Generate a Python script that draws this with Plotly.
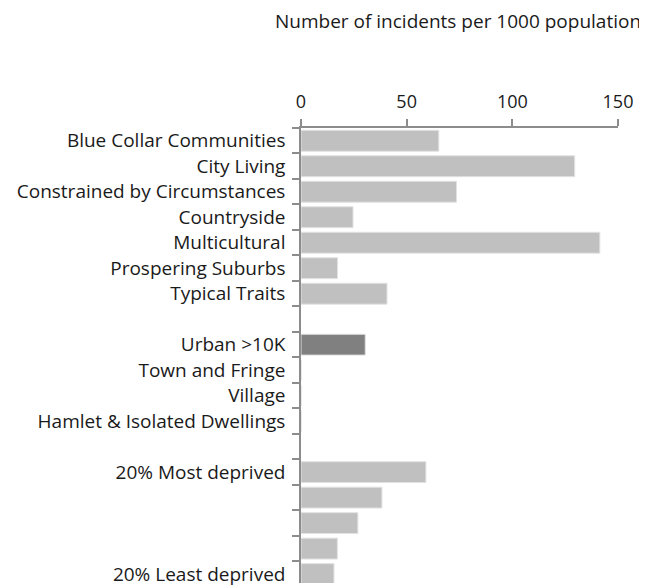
import plotly.graph_objects as go

# rows top -> bottom; blank strings are the spacer rows / unlabeled quintiles
categories = ["Blue Collar Communities", "City Living", "Constrained by Circumstances",
              "Countryside", "Multicultural", "Prospering Suburbs", "Typical Traits",
              " ",
              "Urban >10K", "Town and Fringe", "Village", "Hamlet & Isolated Dwellings",
              "  ",
              "20% Most deprived", "   ", "    ", "     ", "20% Least deprived"]
values = [65.2, 129.5, 73.6, 24.6, 141.4, 17.3, 40.7,
          None,
          30.4, 0, 0, 0,
          None,
          59.1, 38.3, 26.9, 17.2, 15.6]
highlight = "Urban >10K"

LIGHT, DARK = "#c0c0c0", "#808080"
FONT = "Open Sans"
colors = [DARK if c == highlight else LIGHT for c in categories]

fig = go.Figure(go.Bar(
    x=values, y=categories, orientation="h",
    marker=dict(color=colors, line=dict(color="#e2e2e2", width=1)),
    hoverinfo="x+y"))

# page body adds an 8px margin, so the figure is 8px smaller than the window
fig.update_layout(
    width=639, height=579,
    margin=dict(l=293, r=29, t=120, b=0),
    plot_bgcolor="white", paper_bgcolor="white",
    font=dict(family=FONT, size=19, color="#1a1a1a"),
    bargap=0.18, showlegend=False)

fig.add_annotation(text="Number of incidents per 1000 population",
                   xref="paper", yref="paper", x=1, y=1, xanchor="right", yanchor="middle",
                   xshift=25, yshift=107, showarrow=False,
                   font=dict(family=FONT, size=19, color="#1a1a1a"))

fig.update_xaxes(side="top", range=[0, 150], tickvals=[0, 50, 100, 150],
                 showgrid=False, zeroline=False, showline=True, linecolor="#8c8c8c",
                 linewidth=1.5, ticks="outside", ticklen=7, tickcolor="#8c8c8c",
                 tickwidth=1.5, tickfont=dict(size=18), ticklabelstandoff=4)
fig.update_yaxes(type="category", categoryorder="array", categoryarray=categories,
                 range=[17.35, -0.5], showgrid=False, zeroline=False, showline=True,
                 linecolor="#8c8c8c", linewidth=1.5, ticks="outside", ticklen=7,
                 tickcolor="#8c8c8c", tickwidth=1.5, tickson="boundaries",
                 tickfont=dict(size=19), ticklabelstandoff=10)

fig.write_html("out.html")
